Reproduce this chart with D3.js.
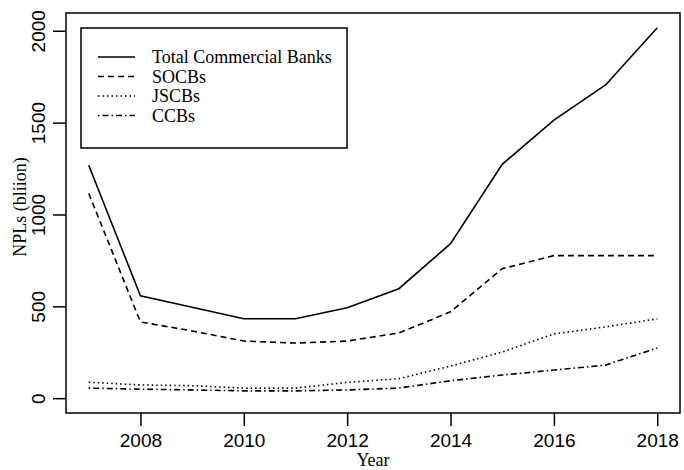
<!DOCTYPE html>
<html>
<head>
<meta charset="utf-8">
<script src="https://cdn.jsdelivr.net/npm/d3@7"></script>
<style>
  body { margin: 0; background: #fff; }
  .tick text { font-family: "Liberation Sans", Arial, sans-serif; font-size: 19px; }
  .serif { font-family: "Liberation Serif", "Times New Roman", serif; font-size: 18px; }
</style>
</head>
<body>
<svg id="chart" width="684" height="470"></svg>
<script>
const years = [2007, 2008, 2009, 2010, 2011, 2012, 2013, 2014, 2015, 2016, 2017, 2018];
const totalBanks = [1268, 557, 495, 432, 432, 492, 596, 841, 1273, 1514, 1705, 2016];
const socbs = [1115, 415, 366, 311, 300, 311, 355, 470, 705, 776, 776, 776];
const jscbs = [87, 72, 68, 55, 55, 86, 106, 175, 251, 350, 388, 432];
const ccbs = [55, 49, 45, 40, 40, 45, 55, 95, 126, 153, 180, 273];
const xTicks = [2008, 2010, 2012, 2014, 2016, 2018];
const yTicks = [0, 500, 1000, 1500, 2000];

const seriesNames = ["Total Commercial Banks", "SOCBs", "JSCBs", "CCBs"];
const seriesValues = [totalBanks, socbs, jscbs, ccbs];
const dashes = [null, "6,4", "1.5,3", "1.5,3,6,3"];

const svg = d3.select("#chart");
const margin = { top: 13, right: 4, bottom: 57, left: 66 };
const width = +svg.attr("width");
const height = +svg.attr("height");
const innerWidth = width - margin.left - margin.right;
const innerHeight = height - margin.top - margin.bottom;

// R style: 4% extension of the data range
const xExt = d3.extent(years);
const xPad = (xExt[1] - xExt[0]) * 0.04;
const yMax = d3.max(seriesValues, s => d3.max(s));
const yPad = yMax * 0.04;

const x = d3.scaleLinear()
  .domain([xExt[0] - xPad, xExt[1] + xPad])
  .range([0, innerWidth]);
const y = d3.scaleLinear()
  .domain([-yPad, yMax + yPad])
  .range([innerHeight, 0]);

const g = svg.append("g")
  .attr("transform", `translate(${margin.left},${margin.top})`);

const xAxisG = g.append("g")
  .attr("transform", `translate(0,${innerHeight})`)
  .call(d3.axisBottom(x).tickValues(xTicks).tickFormat(d3.format("d")).tickSize(13).tickPadding(8));
xAxisG.select(".domain").remove();

const yAxisG = g.append("g")
  .call(d3.axisLeft(y).tickValues(yTicks).tickFormat(d3.format("d")).tickSize(13).tickPadding(0));
yAxisG.select(".domain").remove();
yAxisG.selectAll(".tick text")
  .attr("text-anchor", "middle")
  .attr("transform", "translate(-28,0) rotate(-90)")
  .attr("x", 0)
  .attr("dy", "0.35em");

g.selectAll(".tick line").attr("stroke", "#000").attr("stroke-width", 1.5);

g.append("rect")
  .attr("width", innerWidth)
  .attr("height", innerHeight)
  .attr("fill", "none")
  .attr("stroke", "#000")
  .attr("stroke-width", 1.5);

const lineGen = d3.line()
  .x((d, i) => x(years[i]))
  .y(d => y(d));

seriesValues.forEach((s, k) => {
  g.append("path")
    .attr("d", lineGen(s))
    .attr("fill", "none")
    .attr("stroke", "#000")
    .attr("stroke-width", 1.6)
    .attr("stroke-dasharray", dashes[k]);
});

// legend
const leg = g.append("g").attr("transform", "translate(15,15)");
leg.append("rect")
  .attr("width", 266)
  .attr("height", 120)
  .attr("fill", "#fff")
  .attr("stroke", "#000")
  .attr("stroke-width", 1.5);
seriesNames.forEach((name, k) => {
  const ry = 29 + k * 19.5;
  leg.append("line")
    .attr("x1", 17).attr("x2", 54)
    .attr("y1", ry).attr("y2", ry)
    .attr("stroke", "#000")
    .attr("stroke-width", 1.6)
    .attr("stroke-dasharray", dashes[k]);
  leg.append("text")
    .attr("class", "serif")
    .attr("x", 71)
    .attr("y", ry)
    .attr("dy", "0.35em")
    .text(name);
});

// axis titles
svg.append("text")
  .attr("class", "serif")
  .attr("x", margin.left + innerWidth / 2)
  .attr("y", 466)
  .attr("text-anchor", "middle")
  .text("Year");

svg.append("text")
  .attr("class", "serif")
  .attr("transform", `translate(26,${margin.top + innerHeight / 2 - 6}) rotate(-90)`)
  .attr("text-anchor", "middle")
  .text("NPLs (bliion)");
</script>
</body>
</html>
